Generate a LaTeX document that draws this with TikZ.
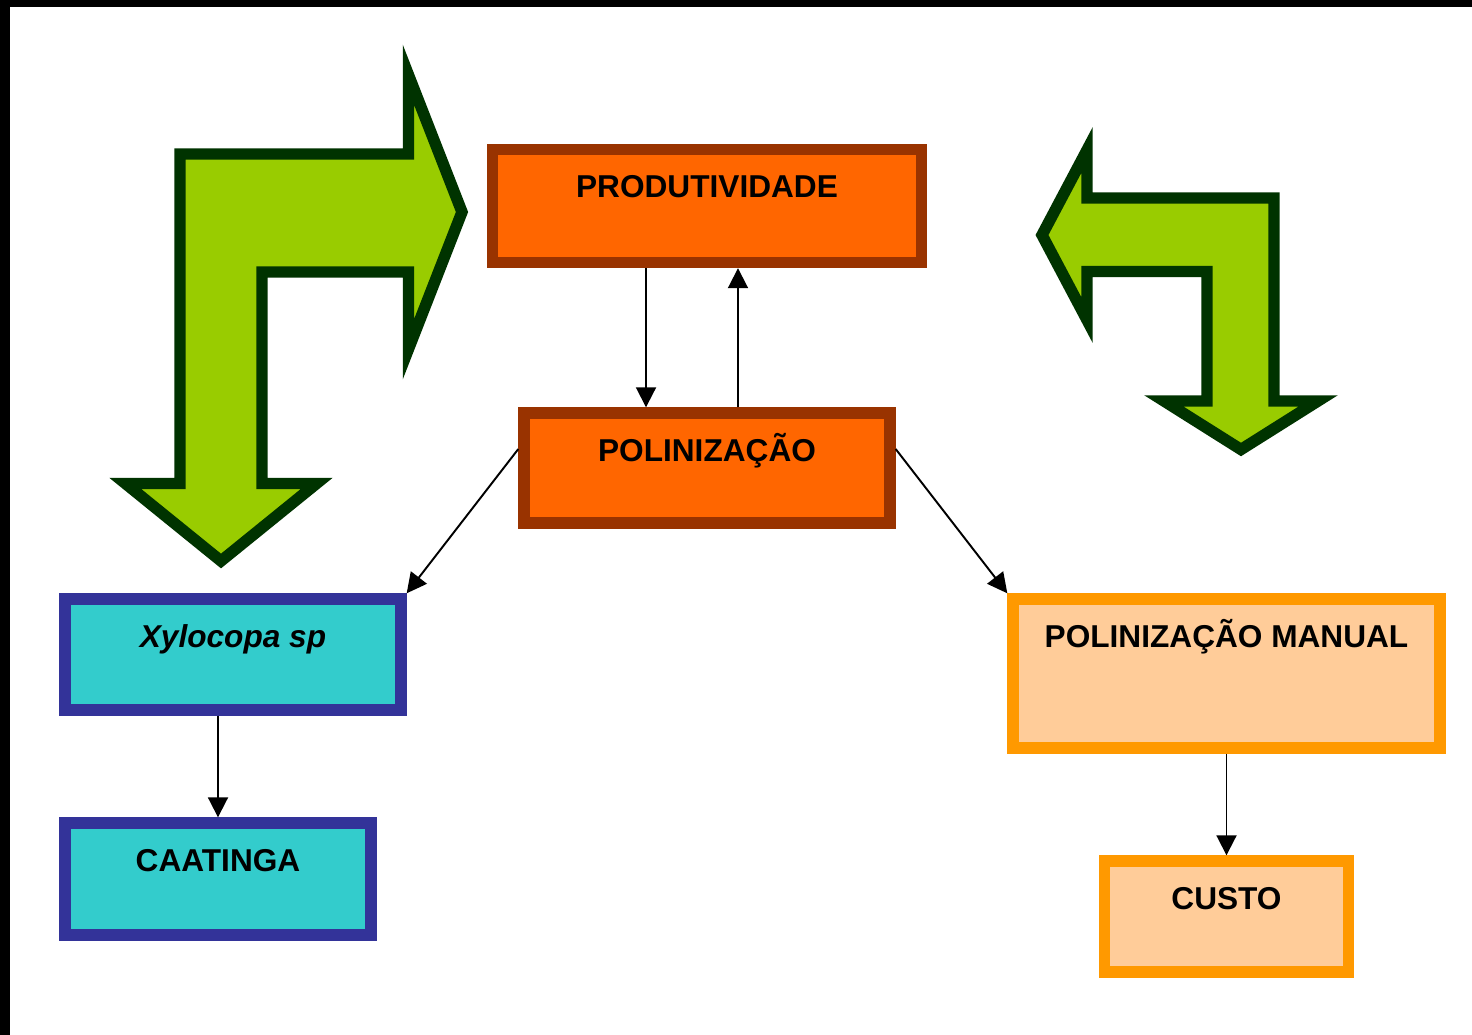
\documentclass[tikz,border=0pt]{standalone}
\usepackage{fontspec}
\setmainfont{Liberation Sans}
\usetikzlibrary{arrows.meta}
\usetikzlibrary{positioning}

\definecolor{laranjaforte}{HTML}{FF6600}
\definecolor{marrom}{HTML}{993300}
\definecolor{ciano}{HTML}{33CCCC}
\definecolor{anil}{HTML}{333399}
\definecolor{pessego}{HTML}{FFCC99}
\definecolor{ambar}{HTML}{FF9900}
\definecolor{verde}{HTML}{99CC00}
\definecolor{verdeescuro}{HTML}{003300}

\begin{document}
\begin{tikzpicture}[x=0.02cm,y=-0.02cm,
    caixa/.style={rectangle, line width=6.5pt, inner sep=0pt, text height=0.96cm,
        font=\fontsize{18}{20}\selectfont\bfseries},
    laranja/.style={caixa, fill=laranjaforte, draw=marrom},
    azul/.style={caixa, fill=ciano, draw=anil},
    salmao/.style={caixa, fill=pessego, draw=ambar},
    seta/.style={-{Triangle[length=0.4cm,width=0.4cm]}, line width=1.1pt},
    curva/.style={fill=verde, draw=verdeescuro, line width=6.5pt, line join=miter}]

    \useasboundingbox (0,0) rectangle (1472,1035);
    \fill[black] (0,0) rectangle (1472,7);
    \fill[black] (0,0) rectangle (10,1035);

    \filldraw[curva] (180,154) -- (408.5,154) -- (408.5,75) -- (462,212) -- (408.5,349)
    -- (408.5,272) -- (262,272) -- (262,483.5) -- (316.6,483.5) -- (221,561)
    -- (125.4,483.5) -- (180,483.5) -- cycle;
    \filldraw[curva] (1274,198) -- (1087,198) -- (1087,150) -- (1042,235) -- (1087,320)
    -- (1087,271.5) -- (1207,271.5) -- (1207,401) -- (1164,401) -- (1241,449.5)
    -- (1318,401) -- (1274,401) -- cycle;

    \node[laranja, minimum width=8.58cm, text depth=1.30cm] (produtividade) at (707,206) {PRODUTIVIDADE};
    \node[laranja, minimum width=7.32cm, text depth=1.24cm] (polinizacao) at (707,468) {POLINIZAÇÃO};
    \node[azul, minimum width=6.72cm, text depth=1.26cm] (xylocopa) at (233,654.5) {\itshape Xylocopa sp};
    \node[azul, minimum width=6.12cm, text depth=1.28cm] (caatinga) at (218,879) {CAATINGA};
    \node[salmao, minimum width=8.54cm, text depth=2.02cm] (manual) at (1226.5,673.5) {POLINIZAÇÃO MANUAL};
    \node[salmao, minimum width=4.88cm, text depth=1.26cm] (custo) at (1226.5,916.5) {CUSTO};

    \draw[seta] ([xshift=-1.22cm]produtividade.south) -- ([xshift=-1.22cm]polinizacao.north);
    \draw[seta] ([xshift=0.62cm]polinizacao.north) -- ([xshift=0.62cm]produtividade.south);
    \draw[seta] ([yshift=0.38cm]polinizacao.west) -- (xylocopa.north east);
    \draw[seta] ([yshift=0.38cm]polinizacao.east) -- (manual.north west);
    \draw[seta] (caatinga.north |- xylocopa.south) -- (caatinga.north);
    \draw[seta] (manual.south) -- (custo.north);
\end{tikzpicture}
\end{document}
